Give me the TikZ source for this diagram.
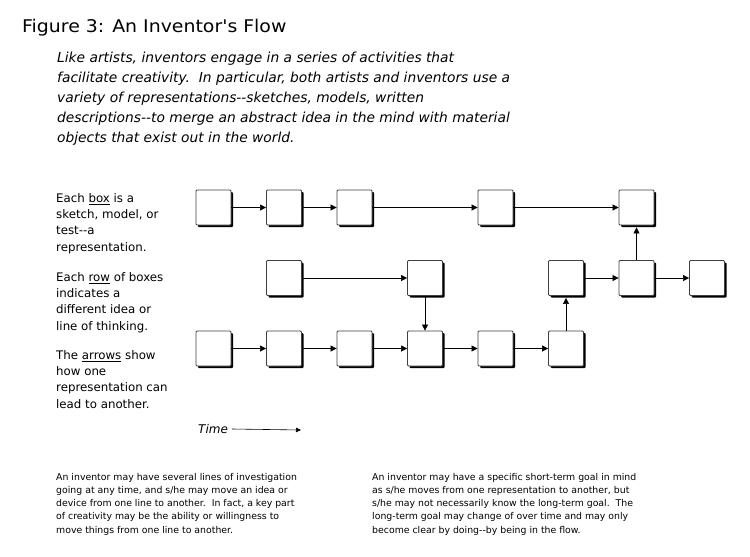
\documentclass[tikz,border=0pt]{standalone}
\usepackage{fontspec}
\setmainfont{DejaVu Sans}
\newfontfamily\titlefont[FakeStretch=1.08]{DejaVu Sans}
\usetikzlibrary{arrows.meta,shadows}

\begin{document}
\begin{tikzpicture}[x=1pt,y=-1pt,
    stagebox/.style={draw=black!75,fill=white,line width=0.8pt,rounded corners=1pt,
      minimum size=35pt,inner sep=0pt,
      drop shadow={shadow xshift=2pt,shadow yshift=-2pt,fill=black,opacity=1}},
    flow/.style={-{Triangle[length=6pt,width=6pt]},line width=0.6pt},
    note/.style={anchor=north west,align=left,inner sep=0pt},
    legend/.style={note,font=\fontsize{11.8}{16.3}\selectfont},
    remark/.style={note,font=\fontsize{9.35}{13.2}\selectfont}]
  \useasboundingbox (0,0) rectangle (750,557);
  % heading and introduction
  \node[note,font=\titlefont\fontsize{17.5}{20}\selectfont] (title) at (22,19) {Figure 3: An Inventor's Flow};
  \node[note,font=\fontsize{13.8}{20}\selectfont\itshape] (intro) at (57,52) {%
    Like artists, inventors engage in a series of activities that\\
    facilitate creativity.\ \ In particular, both artists and inventors use a\\
    variety of representations-{}-sketches, models, written\\
    descriptions-{}-to merge an abstract idea in the mind with material\\
    objects that exist out in the world.};
  % legend on the left
  \node[legend] (legbox) at (56,193) {Each \underline{box} is a\\ sketch, model, or\\ test-{}-a\\ representation.};
  \node[legend] (legrow) at (56,272) {Each \underline{row} of boxes\\ indicates a\\ different idea or\\ line of thinking.};
  \node[legend] (legarrow) at (56,350) {The \underline{arrows} show\\ how one\\ representation can\\ lead to another.};
  % the three rows of representations
  \foreach \c in {0,1,2,4,6}
    \node[stagebox] (t\c) at (213.5+70.5*\c,207.5) {};
  \foreach \c in {1,3,5,6,7}
    \node[stagebox] (m\c) at (213.5+70.5*\c,278) {};
  \foreach \c in {0,...,5}
    \node[stagebox] (b\c) at (213.5+70.5*\c,348.5) {};
  \foreach \a/\b in {t0/t1,t1/t2,t2/t4,t4/t6,m1/m3,m5/m6,m6/m7,
                     b0/b1,b1/b2,b2/b3,b3/b4,b4/b5,m3/b3}
    \draw[flow] (\a) -- (\b);
  \draw[flow,shorten >=2pt] (b5) -- (m5);
  \draw[flow,shorten >=2pt] (m6) -- (t6);
  % time axis
  \node[anchor=west,inner sep=0pt,font=\fontsize{12}{14}\selectfont\itshape] (time) at (198,429) {Time};
  \coordinate (timeend) at (301,430);
  \draw[-{Triangle[length=5pt,width=4.5pt]},line width=0.6pt] ([xshift=4pt]time.east) -- (timeend);
  % remarks at the bottom
  \node[remark] (remleft) at (56,473) {%
    An inventor may have several lines of investigation\\
    going at any time, and s/he may move an idea or\\
    device from one line to another.\ \ In fact, a key part\\
    of creativity may be the ability or willingness to\\
    move things from one line to another.};
  \node[remark] (remright) at (372,473) {%
    An inventor may have a specific short-term goal in mind\\
    as s/he moves from one representation to another, but\\
    s/he may not necessarily know the long-term goal.\ \ The\\
    long-term goal may change of over time and may only\\
    become clear by doing-{}-by being in the flow.};
\end{tikzpicture}
\end{document}
